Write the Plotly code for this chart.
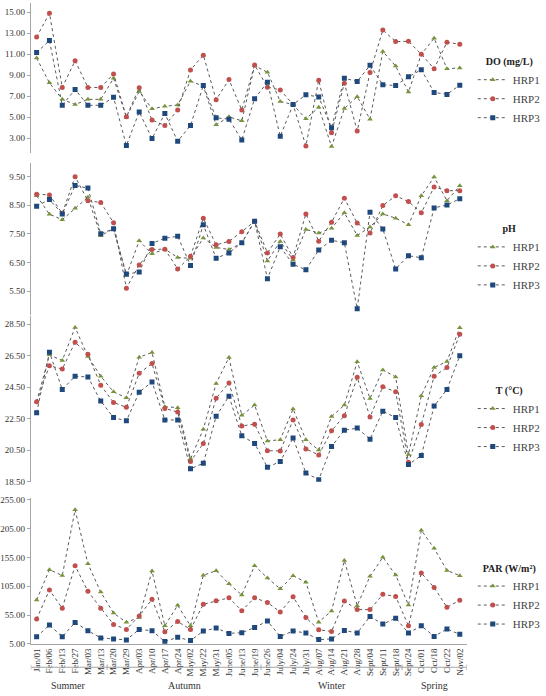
import plotly.graph_objects as go

dates = ["Jan/01", "Feb/06", "Feb/13", "Feb/27", "Mar/03", "Mar/13", "Mar/20", "Mar/29",
         "Apr/03", "Apr/10", "Apr/17", "Apr/24", "May/02", "May/22", "May/31", "June/05",
         "June/13", "June/19", "June/26", "July/04", "July/24", "July/31", "Aug/07", "Aug/14",
         "Aug/21", "Aug/28", "Sept/04", "Sept/11", "Sept/18", "Sept/24", "Oct/01", "Oct/18",
         "Oct/22", "Nov/02"]

series_names = ["HRP1", "HRP2", "HRP3"]

do_hrp1 = [10.63, 8.27, 6.7, 6.2, 6.7, 6.7, 8.7, 5.0, 7.45, 5.8, 6.04, 6.16, 8.43, 7.96, 4.28, 5.03,
           4.65, 9.9, 9.28, 6.5, 6.2, 4.84, 5.94, 2.2, 5.82, 6.95, 4.81, 11.26, 9.87, 7.39, 11.0,
           12.52, 9.62, 9.69]
do_hrp2 = [12.64, 14.9, 7.83, 10.38, 7.83, 7.83, 9.12, 5.03, 7.8, 4.72, 4.21, 5.69, 9.5, 10.91,
           6.67, 8.58, 5.69, 9.97, 7.86, 7.6, 6.2, 2.26, 8.52, 3.52, 8.24, 3.68, 9.25, 13.3, 12.2,
           12.23, 11.0, 9.62, 12.14, 11.95]
do_hrp3 = [11.16, 12.3, 6.13, 7.64, 6.13, 6.13, 6.89, 2.3, 5.5, 2.96, 5.35, 2.7, 4.21, 8.02, 4.94,
           4.81, 2.83, 6.76, 8.33, 3.18, 6.2, 7.14, 6.92, 4.0, 8.71, 8.4, 9.94, 8.08, 8.02, 8.84,
           9.53, 7.36, 7.17, 8.05]

ph_hrp1 = [8.83, 8.19, 8.0, 8.4, 8.78, 7.44, 7.68, 6.05, 7.26, 6.81, 6.97, 6.68, 6.65, 7.36, 7.03,
           6.96, 7.18, 7.95, 6.56, 7.24, 6.59, 7.66, 7.53, 7.7, 8.24, 7.45, 7.74, 8.2, 8.05, 7.82,
           8.83, 9.49, 8.66, 9.18]
ph_hrp2 = [8.89, 8.86, 8.22, 9.5, 8.66, 8.6, 7.89, 5.61, 6.42, 6.96, 6.97, 6.28, 6.72, 8.05, 7.12,
           7.24, 7.58, 7.94, 6.84, 7.5, 6.68, 8.2, 7.25, 7.91, 8.75, 7.88, 7.53, 8.49, 8.83, 8.63,
           8.24, 9.14, 9.01, 9.01]
ph_hrp3 = [8.47, 8.7, 8.2, 9.19, 9.1, 7.51, 7.68, 6.1, 6.17, 7.17, 7.35, 7.42, 6.4, 7.82, 6.65,
           6.84, 7.19, 7.94, 5.94, 7.05, 6.44, 6.25, 6.94, 7.28, 7.19, 4.89, 8.26, 7.67, 6.28,
           6.74, 6.67, 8.41, 8.51, 8.73]

t_hrp1 = [23.57, 26.55, 26.19, 28.29, 26.45, 25.19, 24.2, 23.82, 26.4, 26.7, 23.26, 23.2, 19.95,
          21.83, 24.73, 26.38, 22.71, 23.36, 21.08, 21.17, 23.11, 21.16, 20.51, 22.63, 23.36,
          26.11, 23.78, 25.59, 25.15, 20.22, 23.95, 25.75, 26.13, 28.27]
t_hrp2 = [23.57, 25.86, 25.65, 27.35, 26.59, 24.62, 23.53, 23.22, 25.38, 26.0, 23.15, 22.92, 19.78,
          20.93, 23.8, 24.77, 22.04, 22.15, 20.47, 20.45, 22.42, 20.58, 20.2, 21.73, 22.69, 25.12,
          22.61, 24.52, 24.2, 19.74, 22.13, 25.19, 25.75, 27.85]
t_hrp3 = [22.88, 26.72, 24.35, 25.19, 25.15, 23.62, 22.57, 22.36, 24.18, 24.83, 22.42, 22.42, 19.32,
          19.67, 22.65, 23.93, 21.41, 20.93, 19.42, 19.78, 21.27, 19.05, 18.63, 20.74, 21.77, 21.9,
          21.2, 22.97, 22.57, 19.59, 20.16, 23.3, 24.35, 26.49]

par_hrp1 = [81.3, 133.9, 123.6, 237.9, 144.1, 95.0, 58.4, 42.4, 51.0, 131.6, 36.4, 72.0, 36.4,
            124.1, 132.1, 109.3, 89.9, 140.7, 119.4, 100.5, 123.4, 112.0, 42.7, 62.2, 149.7, 71.4,
            122.3, 155.4, 124.5, 72.5, 202.4, 170.9, 132.6, 123.4]
par_hrp2 = [48.2, 98.4, 67.0, 140.7, 96.3, 66.8, 38.7, 30.1, 53.6, 82.3, 26.1, 43.8, 30.1, 73.7,
            79.9, 85.0, 62.7, 85.0, 76.8, 60.4, 86.8, 50.7, 29.5, 26.6, 79.3, 64.5, 64.5, 91.0, 87.4,
            36.4, 128.0, 102.9, 68.5, 80.8]
par_hrp3 = [17.5, 37.6, 17.5, 42.1, 27.8, 15.3, 13.6, 11.9, 30.1, 27.8, 9.0, 16.4, 10.7, 27.3, 32.5,
            23.2, 24.4, 33.5, 44.5, 18.0, 27.3, 23.9, 12.4, 13.6, 28.4, 23.9, 52.4, 39.3, 49.6, 23.9,
            36.4, 18.0, 30.8, 21.5]

panels = [
    ("DO (mg/L)", [do_hrp1, do_hrp2, do_hrp3]),
    ("pH", [ph_hrp1, ph_hrp2, ph_hrp3]),
    ("T (°C)", [t_hrp1, t_hrp2, t_hrp3]),
    ("PAR (W/m²)", [par_hrp1, par_hrp2, par_hrp3]),
]

seasons = ["Summer", "Autumn", "Winter", "Spring"]
season_first = ["Jan/01", "Mar/20", "June/26", "Sept/24"]

# ---- styling ----
FONT = "Liberation Serif, Times New Roman, serif"
marker_colors = ["#77933C", "#C0504D", "#1F497D"]
marker_symbols = ["triangle-up", "circle", "square"]
line_color = "#595959"
axis_color = "#A6A6A6"

y_domains = [[0.7816, 1.0], [0.5464, 0.7672], [0.3042, 0.5445], [0.0685, 0.2802]]
y_ranges = [[1.56, 15.88], [4.67, 9.97], [18.5, 28.99], [5, 257.9]]
y_ticks = [[3, 5, 7, 9, 11, 13, 15], [5.5, 6.5, 7.5, 8.5, 9.5],
           [18.5, 20.5, 22.5, 24.5, 26.5, 28.5], [5, 55, 105, 155, 205, 255]]
legend_y = [0.9285, 0.6855, 0.4505, 0.1925]
x_range = [-0.46, 33.54]
x_domain = [30 / 546, 470 / 546]

fig = go.Figure()
layout = dict(
    width=546, height=696,
    margin=dict(l=0, r=0, t=0, b=0),
    paper_bgcolor="white", plot_bgcolor="white",
    font=dict(family=FONT, size=9, color="#333333"),
)

for p, (title, data) in enumerate(panels):
    n = p + 1
    sfx = "" if n == 1 else str(n)
    leg = "legend" if n == 1 else f"legend{n}"
    for s, vals in enumerate(data):
        fig.add_trace(go.Scatter(
            x=dates, y=vals, name=series_names[s], mode="lines+markers",
            xaxis=f"x{sfx}", yaxis=f"y{sfx}", legend=leg,
            line=dict(color=line_color, width=1, dash="dot"),
            marker=dict(color=marker_colors[s], symbol=marker_symbols[s], size=5,
                        line=dict(width=0)),
        ))
    bottom = (n == 4)
    layout[f"xaxis{sfx}"] = dict(
        domain=x_domain, anchor=f"y{sfx}", type="category", range=x_range,
        showgrid=False, zeroline=False,
        showline=bottom, linecolor=axis_color, linewidth=1,
        showticklabels=bottom, ticks="", tickangle=-90,
        tickfont=dict(family=FONT, size=9, color="#333333"),
        **({} if n == 1 else {"matches": "x"}),
    )
    layout[f"yaxis{sfx}"] = dict(
        domain=y_domains[p], anchor=f"x{sfx}", range=y_ranges[p],
        tickvals=y_ticks[p], tickformat=".2f",
        showgrid=False, zeroline=False, showline=True, linecolor=axis_color, linewidth=1,
        ticks="outside", ticklen=3, tickcolor=axis_color,
        tickfont=dict(family=FONT, size=9, color="#333333"),
    )
    layout[leg] = dict(
        x=0.872, xanchor="left", y=legend_y[p], yanchor="top",
        bgcolor="rgba(0,0,0,0)",
        title=dict(text=f"<b>{title}</b>", side="top center",
                   font=dict(family=FONT, size=10, color="#222222")),
        font=dict(family=FONT, size=11, color="#444444"),
        itemwidth=30, tracegroupgap=0,
    )

fig.update_layout(**layout)

# ---- season band under the x axis ----
idx = [dates.index(d) for d in season_first]
bounds = [x_range[0]] + [i - 0.5 for i in idx[1:]] + [x_range[1]]
line_y = 1 - 672 / 696
fig.add_shape(type="line", xref="x4", yref="paper", x0=bounds[0], x1=bounds[-1],
              y0=line_y, y1=line_y, line=dict(color=axis_color, width=1))
for b in bounds:
    fig.add_shape(type="line", xref="x4", yref="paper", x0=b, x1=b,
                  y0=line_y - 0.004, y1=line_y + 0.004, line=dict(color=axis_color, width=1))
for k, name in enumerate(seasons):
    fig.add_annotation(x=(bounds[k] + bounds[k + 1]) / 2, xref="x4", y=1 - 690 / 696, yref="paper",
                       text=name, showarrow=False, yanchor="middle",
                       font=dict(family=FONT, size=10, color="#333333"))

fig.write_html("out.html")
